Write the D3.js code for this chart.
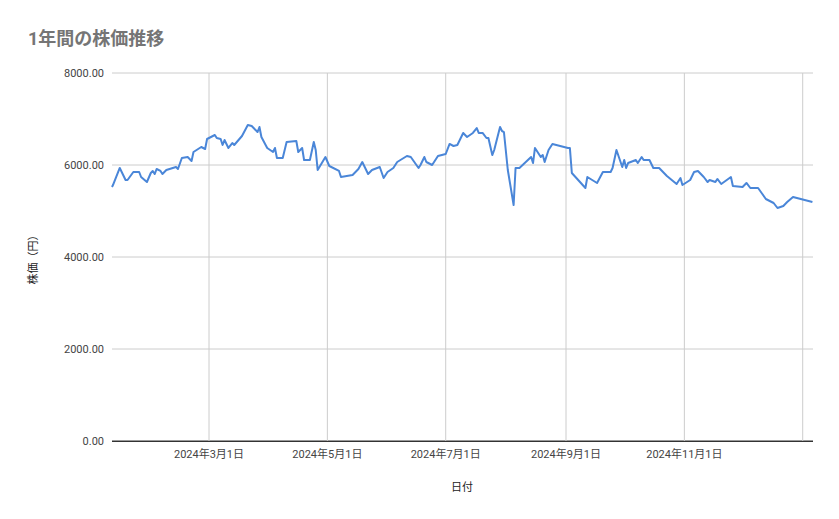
<!DOCTYPE html>
<html><head><meta charset="utf-8">
<script src="https://cdn.jsdelivr.net/npm/d3@7"></script>
<style>body{margin:0;background:#fff}svg{font-family:Roboto,"Noto Sans CJK JP",sans-serif}</style>
</head><body><svg id="c" width="839" height="519"></svg>
<script>
// days since 2024-01-01
const days=[10,10.5,14,17,18,21,24,25,28,30,31,32,33,35,36,38,43,44,46,49,51,52,56,58,59,63,64,66,67,68,70,72,73,77,80,82,85,86,87,90,93,94,95,98,100,105,106,108,109,112,114,115,116,120,122,127,128,134,137,139,142,144,148,150,152,155,157,162,164,168,169,171,172,175,178,182,184,186,188,191,193,196,198,199,201,203,204,206,207,210,211,212,214,217,218,220,226,227,228,231,232,233,235,237,245,246,247,254,255,260,263,267,268,270,273,274,275,276,280,281,283,284,287,289,292,296,301,303,304,308,310,312,315,317,318,321,322,324,329,330,335,337,339,343,347,351,353,356,358,361,371];
const prices=[5522,5565,5935,5674,5674,5848,5848,5739,5630,5826,5870,5804,5913,5870,5804,5891,5957,5913,6152,6174,6087,6283,6391,6348,6565,6652,6587,6565,6435,6543,6370,6478,6435,6630,6870,6848,6717,6826,6609,6370,6283,6370,6152,6152,6500,6522,6283,6370,6109,6109,6500,6326,5891,6174,5978,5870,5739,5783,5913,6065,5804,5891,5957,5717,5848,5935,6065,6196,6174,5935,6000,6174,6065,6000,6196,6239,6457,6413,6435,6696,6609,6696,6804,6696,6696,6587,6587,6217,6326,6826,6739,6717,5891,5130,5935,5935,6174,6043,6370,6174,6217,6065,6326,6457,6370,6370,5826,5500,5739,5609,5848,5848,5935,6326,5957,6109,5935,6043,6109,6043,6174,6109,6109,5935,5935,5761,5587,5717,5565,5674,5848,5870,5739,5630,5674,5630,5696,5587,5739,5543,5522,5609,5500,5500,5261,5174,5065,5109,5196,5304,5196];
const yTicks=[0,2000,4000,6000,8000];
const xTickDates=["2024-03-01","2024-05-01","2024-07-01","2024-09-01","2024-11-01","2025-01-01"];
const xTickLabels=["2024年3月1日","2024年5月1日","2024年7月1日","2024年9月1日","2024年11月1日",""];
const title="1年間の株価推移", yTitle="株価（円）", xTitle="日付";

const base=new Date(2024,0,1);
const toDate=d=>new Date(base.getTime()+d*86400000);
const data=days.map((d,i)=>({date:toDate(d),v:prices[i]}));
const svg=d3.select("#c");
const L=112,R=813,T=73,B=441;
const x=d3.scaleTime().domain([toDate(10),toDate(371.3)]).range([L,R]);
const y=d3.scaleLinear().domain([0,8000]).range([B,T]);
const parse=d3.timeParse("%Y-%m-%d");
const xt=xTickDates.map(parse);

svg.append("g").selectAll("line").data(yTicks).join("line")
 .attr("x1",L).attr("x2",R).attr("y1",d=>y(d)).attr("y2",d=>y(d))
 .attr("stroke",d=>d===0?"#333":"#ccc").attr("stroke-width",1);
svg.append("g").selectAll("line").data(xt).join("line")
 .attr("x1",d=>x(d)).attr("x2",d=>x(d)).attr("y1",T).attr("y2",B)
 .attr("stroke","#ccc");
svg.append("line").attr("x1",L).attr("x2",R).attr("y1",B+0.5).attr("y2",B+0.5).attr("stroke","#333");
svg.append("g").selectAll("text").data(yTicks).join("text")
 .attr("x",104).attr("y",d=>y(d)+4).attr("text-anchor","end")
 .attr("font-size",11).attr("fill","#444").text(d=>d3.format(".2f")(d));
svg.append("g").selectAll("text").data(xt).join("text")
 .attr("x",d=>x(d)).attr("y",458).attr("text-anchor","middle")
 .attr("font-size",11).attr("fill","#444").text((d,i)=>xTickLabels[i]);
svg.append("path").datum(data)
 .attr("d",d3.line().x(d=>x(d.date)).y(d=>y(d.v)))
 .attr("fill","none").attr("stroke","#4a86d8").attr("stroke-width",2).attr("stroke-linejoin","round");
svg.append("text").attr("x",28).attr("y",45).attr("font-size",18).attr("font-weight","bold").attr("fill","#757575").text(title);
svg.append("text").attr("transform","translate(37,257) rotate(-90)").attr("text-anchor","middle").attr("font-size",11).attr("fill","#222").text(yTitle);
svg.append("text").attr("x",462).attr("y",491).attr("text-anchor","middle").attr("font-size",11).attr("fill","#222").text(xTitle);
</script></body></html>
